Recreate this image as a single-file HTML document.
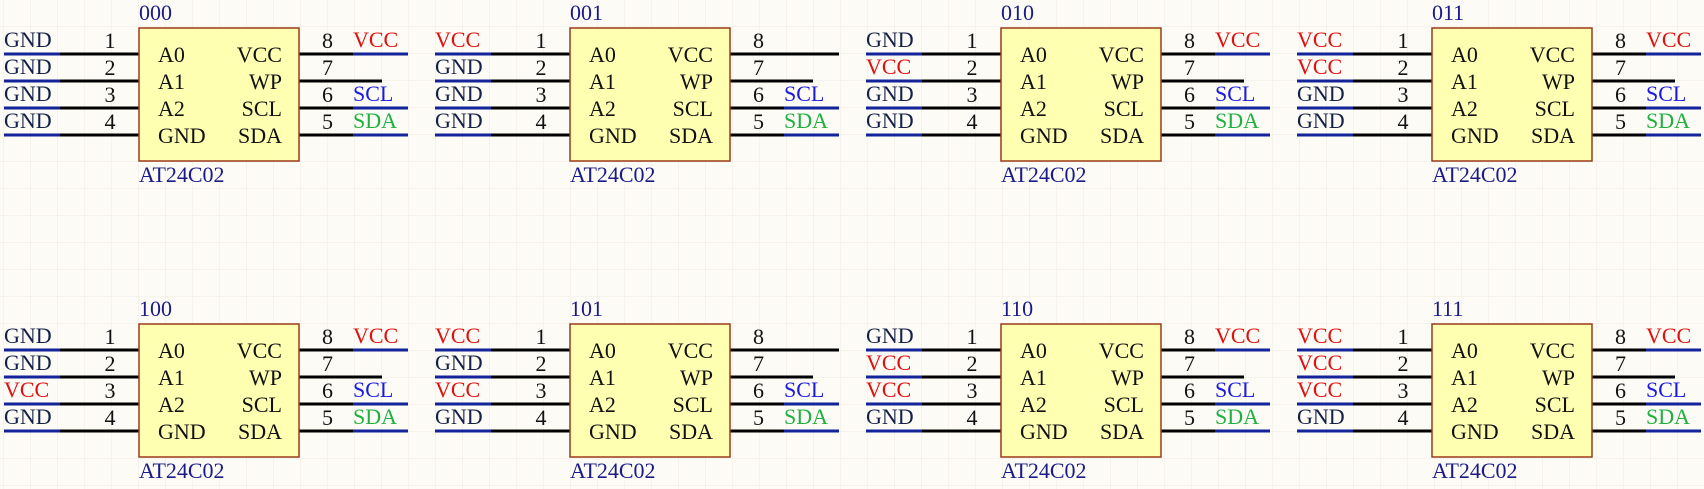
<!DOCTYPE html>
<html><head><meta charset="utf-8"><style>
html,body{margin:0;padding:0;background:#fcfbf5;}
svg{display:block;}
svg text{font-family:'Liberation Serif','Times New Roman',serif !important;font-size:22px;}
.g{fill:#142048}.v{fill:#e01010}.c{fill:#1a1ae0}.d{fill:#20b040}.n{fill:#111}.t{fill:#1a1a8a}
.w{stroke:#000;stroke-width:3}.b{stroke:#13239a;stroke-width:3}
</style></head><body>
<svg width="1704" height="489" viewBox="0 0 1704 489" xmlns="http://www.w3.org/2000/svg" font-family="Liberation Serif, serif">
<defs>
<pattern id="grid" width="27" height="27" patternUnits="userSpaceOnUse" x="4" y="0">
<path d="M27 0V27M0 27H27" stroke="#efebe2" stroke-width="1" fill="none"/>
</pattern>
<g id="body">
<line class="w" x1="4" y1="54" x2="139" y2="54"/><line class="w" x1="4" y1="81" x2="139" y2="81"/>
<line class="w" x1="4" y1="108" x2="139" y2="108"/><line class="w" x1="4" y1="135" x2="139" y2="135"/>
<line class="b" x1="4" y1="54" x2="60" y2="54"/><line class="b" x1="4" y1="81" x2="60" y2="81"/>
<line class="b" x1="4" y1="108" x2="60" y2="108"/><line class="b" x1="4" y1="135" x2="60" y2="135"/>
<line class="w" x1="299" y1="54" x2="408" y2="54"/><line class="w" x1="299" y1="81" x2="382" y2="81"/>
<line class="w" x1="299" y1="108" x2="408" y2="108"/><line class="w" x1="299" y1="135" x2="408" y2="135"/>
<line class="b" x1="353" y1="108" x2="408" y2="108"/><line class="b" x1="353" y1="135" x2="408" y2="135"/>
<rect x="139" y="28" width="160" height="133" fill="#ffffb2" stroke="#9a3a1a" stroke-width="1.5"/>
</g>
</defs>
<rect width="1704" height="489" fill="url(#grid)"/>
<g transform="translate(0,0)"><use href="#body"/><line class="b" x1="353" y1="54" x2="408" y2="54"/>
<text x="139" y="20" class="t" font-size="20">000</text>
<text x="4" y="47" class="g">GND</text><text x="4" y="74" class="g">GND</text><text x="4" y="101" class="g">GND</text><text x="4" y="128" class="g">GND</text>
<text x="353" y="47" class="v">VCC</text><text x="353" y="101" class="c">SCL</text><text x="353" y="128" class="d">SDA</text></g>
<g transform="translate(431,0)"><use href="#body"/>
<text x="139" y="20" class="t" font-size="20">001</text>
<text x="4" y="47" class="v">VCC</text><text x="4" y="74" class="g">GND</text><text x="4" y="101" class="g">GND</text><text x="4" y="128" class="g">GND</text>
<text x="353" y="101" class="c">SCL</text><text x="353" y="128" class="d">SDA</text></g>
<g transform="translate(862,0)"><use href="#body"/><line class="b" x1="353" y1="54" x2="408" y2="54"/>
<text x="139" y="20" class="t" font-size="20">010</text>
<text x="4" y="47" class="g">GND</text><text x="4" y="74" class="v">VCC</text><text x="4" y="101" class="g">GND</text><text x="4" y="128" class="g">GND</text>
<text x="353" y="47" class="v">VCC</text><text x="353" y="101" class="c">SCL</text><text x="353" y="128" class="d">SDA</text></g>
<g transform="translate(1293,0)"><use href="#body"/><line class="b" x1="353" y1="54" x2="408" y2="54"/>
<text x="139" y="20" class="t" font-size="20">011</text>
<text x="4" y="47" class="v">VCC</text><text x="4" y="74" class="v">VCC</text><text x="4" y="101" class="g">GND</text><text x="4" y="128" class="g">GND</text>
<text x="353" y="47" class="v">VCC</text><text x="353" y="101" class="c">SCL</text><text x="353" y="128" class="d">SDA</text></g>
<g transform="translate(0,296)"><use href="#body"/><line class="b" x1="353" y1="54" x2="408" y2="54"/>
<text x="139" y="20" class="t" font-size="20">100</text>
<text x="4" y="47" class="g">GND</text><text x="4" y="74" class="g">GND</text><text x="4" y="101" class="v">VCC</text><text x="4" y="128" class="g">GND</text>
<text x="353" y="47" class="v">VCC</text><text x="353" y="101" class="c">SCL</text><text x="353" y="128" class="d">SDA</text></g>
<g transform="translate(431,296)"><use href="#body"/>
<text x="139" y="20" class="t" font-size="20">101</text>
<text x="4" y="47" class="v">VCC</text><text x="4" y="74" class="g">GND</text><text x="4" y="101" class="v">VCC</text><text x="4" y="128" class="g">GND</text>
<text x="353" y="101" class="c">SCL</text><text x="353" y="128" class="d">SDA</text></g>
<g transform="translate(862,296)"><use href="#body"/><line class="b" x1="353" y1="54" x2="408" y2="54"/>
<text x="139" y="20" class="t" font-size="20">110</text>
<text x="4" y="47" class="g">GND</text><text x="4" y="74" class="v">VCC</text><text x="4" y="101" class="v">VCC</text><text x="4" y="128" class="g">GND</text>
<text x="353" y="47" class="v">VCC</text><text x="353" y="101" class="c">SCL</text><text x="353" y="128" class="d">SDA</text></g>
<g transform="translate(1293,296)"><use href="#body"/><line class="b" x1="353" y1="54" x2="408" y2="54"/>
<text x="139" y="20" class="t" font-size="20">111</text>
<text x="4" y="47" class="v">VCC</text><text x="4" y="74" class="v">VCC</text><text x="4" y="101" class="v">VCC</text><text x="4" y="128" class="g">GND</text>
<text x="353" y="47" class="v">VCC</text><text x="353" y="101" class="c">SCL</text><text x="353" y="128" class="d">SDA</text></g>
<g transform="translate(0,0)"><text x="110" y="48" class="n" text-anchor="middle">1</text><text x="110" y="75" class="n" text-anchor="middle">2</text><text x="110" y="102" class="n" text-anchor="middle">3</text><text x="110" y="129" class="n" text-anchor="middle">4</text><text x="322" y="48" class="n">8</text><text x="322" y="75" class="n">7</text><text x="322" y="102" class="n">6</text><text x="322" y="129" class="n">5</text><text x="158" y="62" class="n">A0</text><text x="158" y="89" class="n">A1</text><text x="158" y="116" class="n">A2</text><text x="158" y="143" class="n">GND</text><text x="282" y="62" class="n" text-anchor="end">VCC</text><text x="282" y="89" class="n" text-anchor="end">WP</text><text x="282" y="116" class="n" text-anchor="end">SCL</text><text x="282" y="143" class="n" text-anchor="end">SDA</text><text x="139" y="182" class="t">AT24C02</text></g>
<g transform="translate(431,0)"><text x="110" y="48" class="n" text-anchor="middle">1</text><text x="110" y="75" class="n" text-anchor="middle">2</text><text x="110" y="102" class="n" text-anchor="middle">3</text><text x="110" y="129" class="n" text-anchor="middle">4</text><text x="322" y="48" class="n">8</text><text x="322" y="75" class="n">7</text><text x="322" y="102" class="n">6</text><text x="322" y="129" class="n">5</text><text x="158" y="62" class="n">A0</text><text x="158" y="89" class="n">A1</text><text x="158" y="116" class="n">A2</text><text x="158" y="143" class="n">GND</text><text x="282" y="62" class="n" text-anchor="end">VCC</text><text x="282" y="89" class="n" text-anchor="end">WP</text><text x="282" y="116" class="n" text-anchor="end">SCL</text><text x="282" y="143" class="n" text-anchor="end">SDA</text><text x="139" y="182" class="t">AT24C02</text></g>
<g transform="translate(862,0)"><text x="110" y="48" class="n" text-anchor="middle">1</text><text x="110" y="75" class="n" text-anchor="middle">2</text><text x="110" y="102" class="n" text-anchor="middle">3</text><text x="110" y="129" class="n" text-anchor="middle">4</text><text x="322" y="48" class="n">8</text><text x="322" y="75" class="n">7</text><text x="322" y="102" class="n">6</text><text x="322" y="129" class="n">5</text><text x="158" y="62" class="n">A0</text><text x="158" y="89" class="n">A1</text><text x="158" y="116" class="n">A2</text><text x="158" y="143" class="n">GND</text><text x="282" y="62" class="n" text-anchor="end">VCC</text><text x="282" y="89" class="n" text-anchor="end">WP</text><text x="282" y="116" class="n" text-anchor="end">SCL</text><text x="282" y="143" class="n" text-anchor="end">SDA</text><text x="139" y="182" class="t">AT24C02</text></g>
<g transform="translate(1293,0)"><text x="110" y="48" class="n" text-anchor="middle">1</text><text x="110" y="75" class="n" text-anchor="middle">2</text><text x="110" y="102" class="n" text-anchor="middle">3</text><text x="110" y="129" class="n" text-anchor="middle">4</text><text x="322" y="48" class="n">8</text><text x="322" y="75" class="n">7</text><text x="322" y="102" class="n">6</text><text x="322" y="129" class="n">5</text><text x="158" y="62" class="n">A0</text><text x="158" y="89" class="n">A1</text><text x="158" y="116" class="n">A2</text><text x="158" y="143" class="n">GND</text><text x="282" y="62" class="n" text-anchor="end">VCC</text><text x="282" y="89" class="n" text-anchor="end">WP</text><text x="282" y="116" class="n" text-anchor="end">SCL</text><text x="282" y="143" class="n" text-anchor="end">SDA</text><text x="139" y="182" class="t">AT24C02</text></g>
<g transform="translate(0,296)"><text x="110" y="48" class="n" text-anchor="middle">1</text><text x="110" y="75" class="n" text-anchor="middle">2</text><text x="110" y="102" class="n" text-anchor="middle">3</text><text x="110" y="129" class="n" text-anchor="middle">4</text><text x="322" y="48" class="n">8</text><text x="322" y="75" class="n">7</text><text x="322" y="102" class="n">6</text><text x="322" y="129" class="n">5</text><text x="158" y="62" class="n">A0</text><text x="158" y="89" class="n">A1</text><text x="158" y="116" class="n">A2</text><text x="158" y="143" class="n">GND</text><text x="282" y="62" class="n" text-anchor="end">VCC</text><text x="282" y="89" class="n" text-anchor="end">WP</text><text x="282" y="116" class="n" text-anchor="end">SCL</text><text x="282" y="143" class="n" text-anchor="end">SDA</text><text x="139" y="182" class="t">AT24C02</text></g>
<g transform="translate(431,296)"><text x="110" y="48" class="n" text-anchor="middle">1</text><text x="110" y="75" class="n" text-anchor="middle">2</text><text x="110" y="102" class="n" text-anchor="middle">3</text><text x="110" y="129" class="n" text-anchor="middle">4</text><text x="322" y="48" class="n">8</text><text x="322" y="75" class="n">7</text><text x="322" y="102" class="n">6</text><text x="322" y="129" class="n">5</text><text x="158" y="62" class="n">A0</text><text x="158" y="89" class="n">A1</text><text x="158" y="116" class="n">A2</text><text x="158" y="143" class="n">GND</text><text x="282" y="62" class="n" text-anchor="end">VCC</text><text x="282" y="89" class="n" text-anchor="end">WP</text><text x="282" y="116" class="n" text-anchor="end">SCL</text><text x="282" y="143" class="n" text-anchor="end">SDA</text><text x="139" y="182" class="t">AT24C02</text></g>
<g transform="translate(862,296)"><text x="110" y="48" class="n" text-anchor="middle">1</text><text x="110" y="75" class="n" text-anchor="middle">2</text><text x="110" y="102" class="n" text-anchor="middle">3</text><text x="110" y="129" class="n" text-anchor="middle">4</text><text x="322" y="48" class="n">8</text><text x="322" y="75" class="n">7</text><text x="322" y="102" class="n">6</text><text x="322" y="129" class="n">5</text><text x="158" y="62" class="n">A0</text><text x="158" y="89" class="n">A1</text><text x="158" y="116" class="n">A2</text><text x="158" y="143" class="n">GND</text><text x="282" y="62" class="n" text-anchor="end">VCC</text><text x="282" y="89" class="n" text-anchor="end">WP</text><text x="282" y="116" class="n" text-anchor="end">SCL</text><text x="282" y="143" class="n" text-anchor="end">SDA</text><text x="139" y="182" class="t">AT24C02</text></g>
<g transform="translate(1293,296)"><text x="110" y="48" class="n" text-anchor="middle">1</text><text x="110" y="75" class="n" text-anchor="middle">2</text><text x="110" y="102" class="n" text-anchor="middle">3</text><text x="110" y="129" class="n" text-anchor="middle">4</text><text x="322" y="48" class="n">8</text><text x="322" y="75" class="n">7</text><text x="322" y="102" class="n">6</text><text x="322" y="129" class="n">5</text><text x="158" y="62" class="n">A0</text><text x="158" y="89" class="n">A1</text><text x="158" y="116" class="n">A2</text><text x="158" y="143" class="n">GND</text><text x="282" y="62" class="n" text-anchor="end">VCC</text><text x="282" y="89" class="n" text-anchor="end">WP</text><text x="282" y="116" class="n" text-anchor="end">SCL</text><text x="282" y="143" class="n" text-anchor="end">SDA</text><text x="139" y="182" class="t">AT24C02</text></g>
</svg>
</body></html>
